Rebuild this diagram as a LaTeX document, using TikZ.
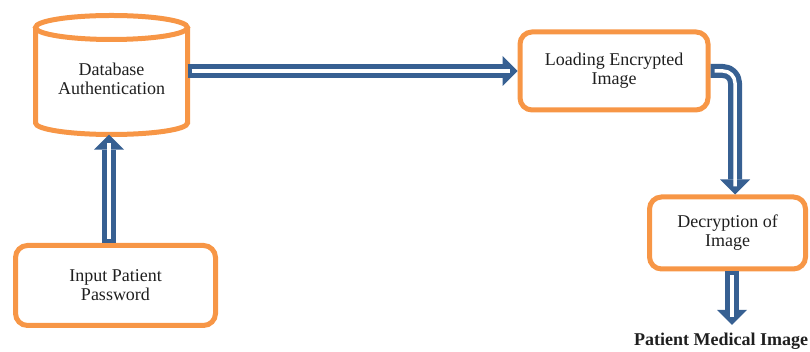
\documentclass[tikz,border=0pt]{standalone}
\usepackage{fontspec}
\setmainfont{Liberation Serif}
\usetikzlibrary{calc}
\definecolor{orng}{HTML}{F79646}
\definecolor{ablue}{HTML}{376092}
\begin{document}
\begin{tikzpicture}[x=1pt,y=1pt,
 txt/.style={align=center, font=\fontsize{18}{19}\selectfont, text=black!88},
 box/.style={txt, draw=orng, line width=5pt, rounded corners=12pt, inner sep=0pt},
 shaft/.style={draw=ablue, line width=14pt, line join=round},
 head/.style={fill=ablue},
 core/.style={draw=white, line width=3.5pt, line join=round}]
\useasboundingbox (0,0) rectangle (810,352);
% cylinder
\draw[orng, line width=5pt] (111.5,324.5) ellipse [x radius=76, y radius=12];
\draw[orng, line width=5pt] (35.5,324.5) -- (35.5,229) arc[start angle=180, end angle=360, x radius=76, y radius=11.5] -- (187.5,324.5);
\node[txt, minimum width=152pt, minimum height=111pt, inner sep=0pt] (db) at (111.5,273) {Database\\Authentication};
% boxes
\node[box, minimum width=188pt, minimum height=78pt] (le) at (614,281) {Loading Encrypted\\Image};
\node[box, minimum width=156pt, minimum height=72pt] (dec) at (727.5,119) {Decryption of\\Image};
\node[box, minimum width=200pt, minimum height=80pt] (ip) at (115.5,66.5) {Input Patient\\Password};
\node[txt, font=\fontsize{18}{19}\selectfont\bfseries, inner xsep=2pt, inner ysep=8.5pt, anchor=base] (pmi) at (721,6) {Patient Medical Image};
\coordinate (vx) at (109,0);
\coordinate (ex) at (735,0);
\coordinate (dx) at (732,0);
% arrow end points
\coordinate (V0) at (ip.north -| vx);
\coordinate (V1) at (db.south -| vx);
\coordinate (H0) at (db.east |- le.west);
\coordinate (H1) at (le.west);
\coordinate (E0) at (le.east);
\coordinate (E1) at (dec.north -| ex);
\coordinate (D0) at (dec.south -| dx);
\coordinate (D1) at (pmi.north -| dx);
% up arrow
\draw[shaft] (V0) -- ($(V1)+(0,-15)$);
\fill[head] ($(V1)+(-15,-15)$) -- (V1) -- ($(V1)+(15,-15)$) -- cycle;
\draw[core] ($(V0)+(0,4)$) -- ($(V1)+(0,-8)$);
% right arrow
\draw[shaft] (H0) -- ($(H1)+(-15,0)$);
\fill[head] ($(H1)+(-15,15)$) -- (H1) -- ($(H1)+(-15,-15)$) -- cycle;
\draw[core] ($(H0)+(4,0)$) -- ($(H1)+(-8,0)$);
% elbow arrow
\draw[shaft, rounded corners=12pt] (E0) -| ($(E1)+(0,15)$);
\fill[head] ($(E1)+(-15,15)$) -- (E1) -- ($(E1)+(15,15)$) -- cycle;
\draw[core, rounded corners=12pt] ($(E0)+(4,0)$) -| ($(E1)+(0,8)$);
% down arrow
\draw[shaft] (D0) -- ($(D1)+(0,15)$);
\fill[head] ($(D1)+(-15,15)$) -- (D1) -- ($(D1)+(15,15)$) -- cycle;
\draw[core] ($(D0)+(0,-4)$) -- ($(D1)+(0,8)$);
\end{tikzpicture}
\end{document}
